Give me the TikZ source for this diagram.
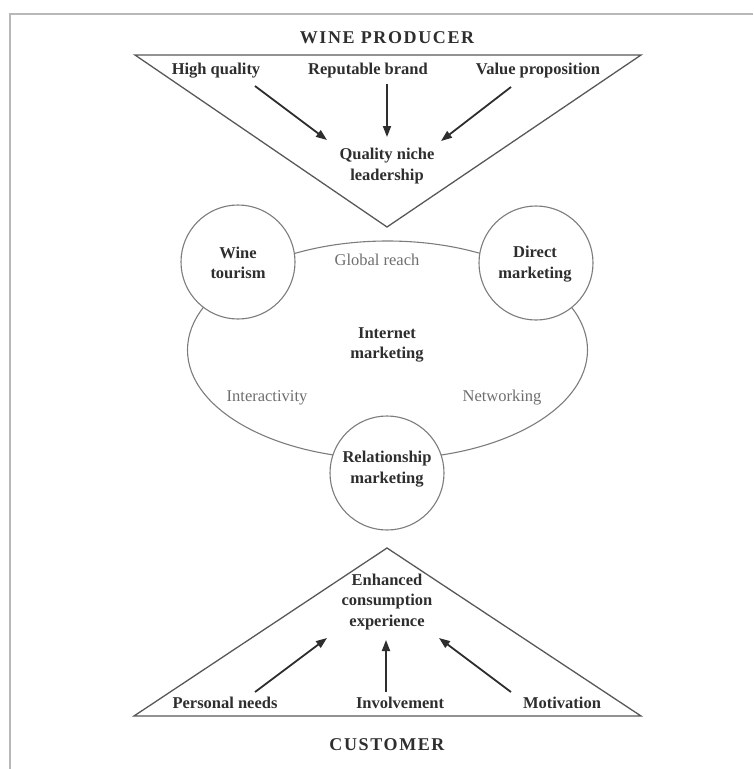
\documentclass[tikz,border=0pt]{standalone}
\usepackage{fontspec}
\setmainfont{Liberation Serif}
\usetikzlibrary{arrows.meta}
\definecolor{framecol}{HTML}{B8B8B8}
\definecolor{edgecol}{HTML}{585858}
\definecolor{ringcol}{HTML}{7C7C7C}
\definecolor{inkcol}{HTML}{2E2E2E}
\definecolor{softcol}{HTML}{6E6E6E}
\tikzset{
  lbl/.style={font=\fontsize{16.5}{20.5}\selectfont\bfseries, text=inkcol, align=center, inner sep=0pt},
  soft/.style={font=\fontsize{16.5}{20.5}\selectfont, text=softcol, align=center, inner sep=0pt},
  headline/.style={font=\fontsize{18}{22}\selectfont\bfseries\addfontfeature{LetterSpace=9}, text=inkcol, inner sep=0pt},
  tri/.style={draw=edgecol, line width=1.3pt, line join=miter},
  ring/.style={circle, draw=ringcol, line width=1.1pt, fill=white, minimum size=114pt, inner sep=0pt},
  flow/.style={draw=inkcol, line width=1.8pt, -{Triangle[length=11pt,width=8pt]}},
}
\begin{document}
\begin{tikzpicture}[x=1pt,y=-1pt]
\useasboundingbox (0,0) rectangle (753,769);
% outer frame (top and left edges only)
\draw[framecol, line width=1.6pt] (10,769) -- (10,14) -- (753,14);

% producer triangle
\node[headline] (wp) at (387,38) {WINE PRODUCER};
\draw[tri] (135,55) -- (641,55) -- (387,227) -- cycle;
\node[lbl] (hq) at (216,71) {High quality};
\node[lbl] (rb) at (368,71) {Reputable brand};
\node[lbl] (vp) at (538,71) {Value proposition};
\node[lbl] (qnl) at (387,166) {Quality niche\\leadership};
\coordinate (hqs) at (255,86);  \coordinate (hqe) at (327,140);
\coordinate (rbs) at (387,84);  \coordinate (rbe) at (387,137);
\coordinate (vps) at (511,87);  \coordinate (vpe) at (441,141);
\draw[flow] (hqs) -- (hqe);
\draw[flow] (rbs) -- (rbe);
\draw[flow] (vps) -- (vpe);

% internet marketing loop with its three circles
\draw[ringcol, line width=1.1pt] (387.5,350) ellipse [x radius=200, y radius=109];
\node[ring] (wt) at (238,262) {};
\node[ring] (dm) at (536,263) {};
\node[ring] (rm) at (387,473) {};
\node[lbl] (wtt) at (238,263) {Wine\\tourism};
\node[lbl] (dmt) at (535,264) {Direct\\marketing};
\node[lbl] (rmt) at (387,469) {Relationship\\marketing};
\node[lbl] (im) at (387,345) {Internet\\marketing};
\node[soft] (gr) at (377,260) {Global reach};
\node[soft] (ia) at (267,398) {Interactivity};
\node[soft] (nw) at (502,398) {Networking};

% customer triangle
\draw[tri] (387,548) -- (641,716) -- (134,716) -- cycle;
\node[lbl] (ece) at (387,602) {Enhanced\\consumption\\experience};
\node[lbl] (pn) at (225,703) {Personal needs};
\node[lbl] (iv) at (400,703) {Involvement};
\node[lbl] (mo) at (562,703) {Motivation};
\coordinate (pns) at (255,692); \coordinate (pne) at (327,638);
\coordinate (ivs) at (386,692); \coordinate (ive) at (386,640);
\coordinate (mos) at (511,692); \coordinate (moe) at (439,638);
\draw[flow] (pns) -- (pne);
\draw[flow] (ivs) -- (ive);
\draw[flow] (mos) -- (moe);
\node[headline] (cu) at (387,745) {CUSTOMER};
\end{tikzpicture}
\end{document}
